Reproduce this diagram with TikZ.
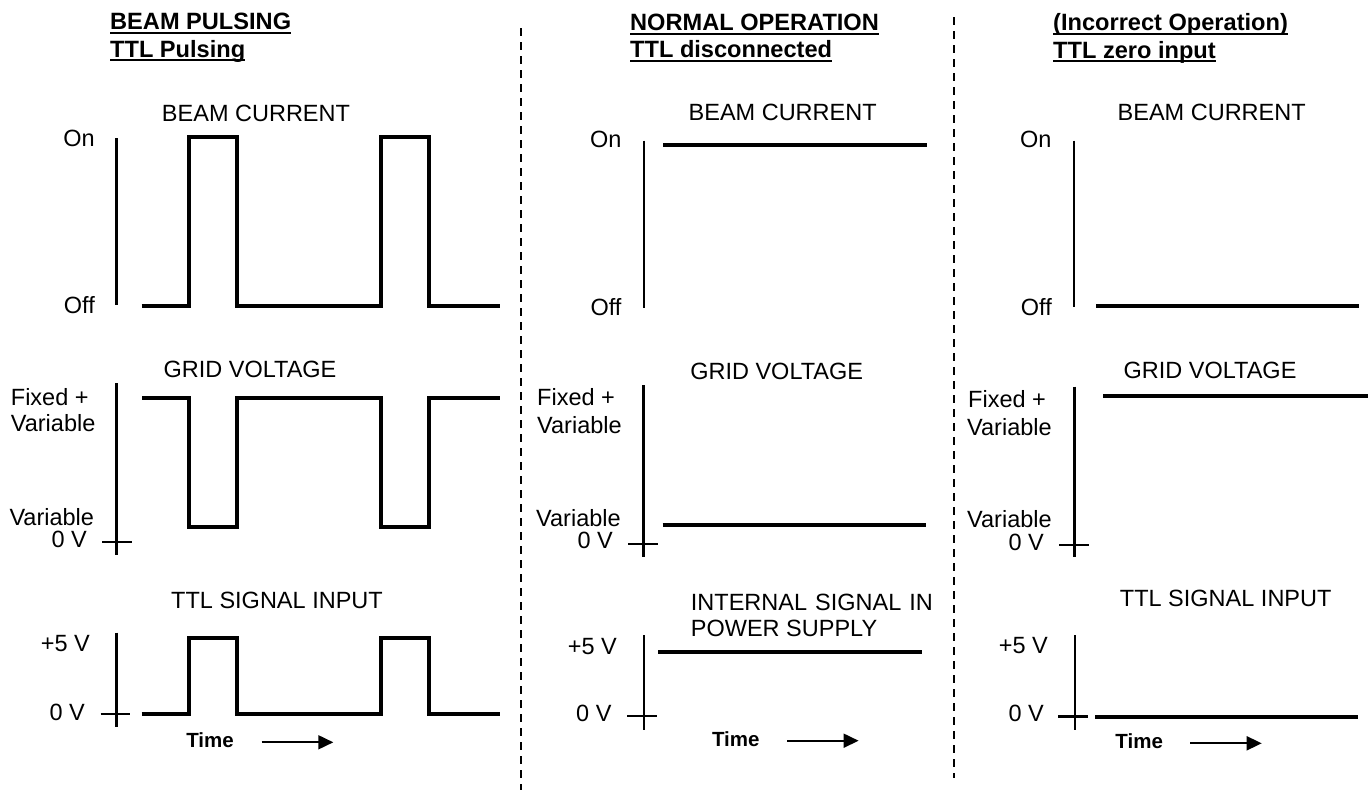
\documentclass[tikz,border=0pt]{standalone}
\usepackage{fontspec}
\setmainfont{Liberation Sans}
\usetikzlibrary{arrows.meta}
\tikzset{
  lbl/.style={inner sep=0pt, font=\fontsize{23.5}{28}\selectfont},
  hdr/.style={inner sep=0pt, font=\fontsize{23.6}{28}\selectfont\bfseries},
  timelbl/.style={inner sep=0pt, font=\fontsize{20.5}{24}\selectfont\bfseries},
  axisline/.style={line width=2.6pt},
  sigline/.style={line width=4pt, line join=miter},
  uline/.style={line width=2pt},
  divider/.style={line width=1.8pt, dash pattern=on 8pt off 6pt},
  timearrow/.style={line width=1.8pt, -{Triangle[length=15pt,width=14pt]}}
}
\begin{document}
\begin{tikzpicture}[x=1pt,y=-1pt]
\useasboundingbox (0,0) rectangle (1370,790);

% ---------- dividers ----------
\coordinate (d1t) at (520.7,28);  \coordinate (d1b) at (520.7,790);
\coordinate (d2t) at (954,17);    \coordinate (d2b) at (954,778);
\draw[divider] (d1t) -- (d1b);
\draw[divider] (d2t) -- (d2b);

% ================= COLUMN 1 =================
\node[hdr, anchor=base west] (h1a) at (110,29) {BEAM PULSING};
\node[hdr, anchor=base west] (h1b) at (110,57) {TTL Pulsing};
\draw[uline] ([yshift=-4pt]h1a.base west) -- ([yshift=-4pt]h1a.base east);
\draw[uline] ([yshift=-3pt]h1b.base west) -- ([yshift=-3pt]h1b.base east);

% beam current
\node[lbl, anchor=base] (t1a) at (256,121.5) {BEAM CURRENT};
\node[lbl, anchor=base east] (on1) at (95,146.5) {On};
\node[lbl, anchor=base east] (off1) at (95,313) {Off};
\coordinate (ax1at) at (116.7,138); \coordinate (ax1ab) at (116.7,305);
\draw[axisline] (ax1at) -- (ax1ab);
\draw[sigline] (141.7,305.7) -- (189,305.7) -- (189,137) -- (237,137) -- (237,305.7)
  -- (381,305.7) -- (381,137) -- (429,137) -- (429,305.7) -- (500,305.7);

% grid voltage
\node[lbl, anchor=base] (t1b) at (250,377.5) {GRID VOLTAGE};
\node[lbl, anchor=base west] (fx1) at (10.7,405) {Fixed +};
\node[lbl, anchor=base west] (va1) at (10.7,431.7) {Variable};
\node[lbl, anchor=base west] (vb1) at (9.3,525) {Variable};
\node[lbl, anchor=base east] (zv1) at (87,547.3) {0 V};
\coordinate (ax1bt) at (116.7,383); \coordinate (ax1bb) at (116.7,555);
\coordinate (cr1bl) at (102,542); \coordinate (cr1br) at (132,542);
\draw[axisline] (ax1bt) -- (ax1bb);
\draw[axisline] (cr1bl) -- (cr1br);
\draw[sigline] (142,397.7) -- (189,397.7) -- (189,527) -- (237,527) -- (237,397.7)
  -- (381,397.7) -- (381,527) -- (429,527) -- (429,397.7) -- (500,397.7);

% ttl signal
\node[lbl, anchor=base] (t1c) at (277,608.3) {TTL SIGNAL INPUT};
\node[lbl, anchor=base east] (p51) at (90,651.7) {+5 V};
\node[lbl, anchor=base east] (zt1) at (85,720) {0 V};
\coordinate (ax1ct) at (116.7,632.7); \coordinate (ax1cb) at (116.7,727);
\coordinate (cr1cl) at (100.7,714); \coordinate (cr1cr) at (130,714);
\draw[axisline] (ax1ct) -- (ax1cb);
\draw[axisline] (cr1cl) -- (cr1cr);
\draw[sigline] (141.7,714) -- (188.5,714) -- (188.5,637.5) -- (236.7,637.5) -- (236.7,714)
  -- (381,714) -- (381,637.5) -- (429,637.5) -- (429,714) -- (500,714);
\node[timelbl, anchor=base] (tm1) at (210,747.5) {Time};
\coordinate (ar1s) at (261.7,742.3); \coordinate (ar1e) at (333.3,742.3);
\draw[timearrow] (ar1s) -- (ar1e);

% ================= COLUMN 2 =================
\node[hdr, anchor=base west] (h2a) at (630,30) {NORMAL OPERATION};
\node[hdr, anchor=base west] (h2b) at (630,57.5) {TTL disconnected};
\draw[uline] ([yshift=-3.5pt]h2a.base west) -- ([yshift=-3.5pt]h2a.base east);
\draw[uline] ([yshift=-3pt]h2b.base west) -- ([yshift=-3pt]h2b.base east);

\node[lbl, anchor=base] (t2a) at (782.7,120) {BEAM CURRENT};
\node[lbl, anchor=base east] (on2) at (621.7,147.7) {On};
\node[lbl, anchor=base east] (off2) at (621.7,315) {Off};
\coordinate (ax2at) at (644,140.7); \coordinate (ax2ab) at (644,308);
\draw[axisline] (ax2at) -- (ax2ab);
\draw[sigline] (663,145) -- (927,145);

\node[lbl, anchor=base] (t2b) at (776.7,379.3) {GRID VOLTAGE};
\node[lbl, anchor=base west] (fx2) at (537,405) {Fixed +};
\node[lbl, anchor=base west] (va2) at (537,433.3) {Variable};
\node[lbl, anchor=base west] (vb2) at (536,526.7) {Variable};
\node[lbl, anchor=base east] (zv2) at (613,548.3) {0 V};
\coordinate (ax2bt) at (643.3,385); \coordinate (ax2bb) at (643.3,556.7);
\coordinate (cr2bl) at (628,544); \coordinate (cr2br) at (658,544);
\draw[axisline] (ax2bt) -- (ax2bb);
\draw[axisline] (cr2bl) -- (cr2br);
\draw[sigline] (662.7,525) -- (926,525);

\node[lbl, anchor=base west] (t2c) at (690.7,610) {\makebox[242pt][s]{INTERNAL SIGNAL IN}};
\node[lbl, anchor=base west] (t2d) at (690.7,636.7) {POWER SUPPLY};
\node[lbl, anchor=base east] (p52) at (617,654) {+5 V};
\node[lbl, anchor=base east] (zt2) at (611.7,721.7) {0 V};
\coordinate (ax2ct) at (644,635); \coordinate (ax2cb) at (644,730);
\coordinate (cr2cl) at (627,716); \coordinate (cr2cr) at (656.7,716);
\draw[axisline] (ax2ct) -- (ax2cb);
\draw[axisline] (cr2cl) -- (cr2cr);
\draw[sigline] (658,651.7) -- (921.7,651.7);
\node[timelbl, anchor=base] (tm2) at (735.8,746) {Time};
\coordinate (ar2s) at (787,740.7); \coordinate (ar2e) at (858.6,740.7);
\draw[timearrow] (ar2s) -- (ar2e);

% ================= COLUMN 3 =================
\node[hdr, anchor=base west] (h3a) at (1053,30) {(Incorrect Operation)};
\node[hdr, anchor=base west] (h3b) at (1053,58) {TTL zero input};
\draw[uline] ([yshift=-3.5pt]h3a.base west) -- ([yshift=-3.5pt]h3a.base east);
\draw[uline] ([yshift=-3pt]h3b.base west) -- ([yshift=-3pt]h3b.base east);

\node[lbl, anchor=base] (t3a) at (1211.7,120) {BEAM CURRENT};
\node[lbl, anchor=base east] (on3) at (1051.7,147.5) {On};
\node[lbl, anchor=base east] (off3) at (1052,315) {Off};
\coordinate (ax3at) at (1074,140.7); \coordinate (ax3ab) at (1074,307);
\draw[axisline] (ax3at) -- (ax3ab);
\draw[sigline] (1096,305.7) -- (1359.3,305.7);

\node[lbl, anchor=base] (t3b) at (1210,378.5) {GRID VOLTAGE};
\node[lbl, anchor=base west] (fx3) at (968,407) {Fixed +};
\node[lbl, anchor=base west] (va3) at (967,435) {Variable};
\node[lbl, anchor=base west] (vb3) at (967,527.3) {Variable};
\node[lbl, anchor=base east] (zv3) at (1044,550) {0 V};
\coordinate (ax3bt) at (1074.3,386.7); \coordinate (ax3bb) at (1074.3,557);
\coordinate (cr3bl) at (1059,545); \coordinate (cr3br) at (1089,545);
\draw[axisline] (ax3bt) -- (ax3bb);
\draw[axisline] (cr3bl) -- (cr3br);
\draw[sigline] (1103.3,395.7) -- (1367.7,395.7);

\node[lbl, anchor=base] (t3c) at (1225.7,606) {TTL SIGNAL INPUT};
\node[lbl, anchor=base east] (p53) at (1048,653.3) {+5 V};
\node[lbl, anchor=base east] (zt3) at (1044,721.7) {0 V};
\coordinate (ax3ct) at (1075,635); \coordinate (ax3cb) at (1075,730);
\coordinate (cr3cl) at (1058,716.7); \coordinate (cr3cr) at (1088,716.7);
\draw[axisline] (ax3ct) -- (ax3cb);
\draw[axisline] (cr3cl) -- (cr3cr);
\draw[sigline] (1095,716.7) -- (1358,716.7);
\node[timelbl, anchor=base] (tm3) at (1139.2,748.3) {Time};
\coordinate (ar3s) at (1190,743.3); \coordinate (ar3e) at (1261.7,743.3);
\draw[timearrow] (ar3s) -- (ar3e);
\end{tikzpicture}
\end{document}
